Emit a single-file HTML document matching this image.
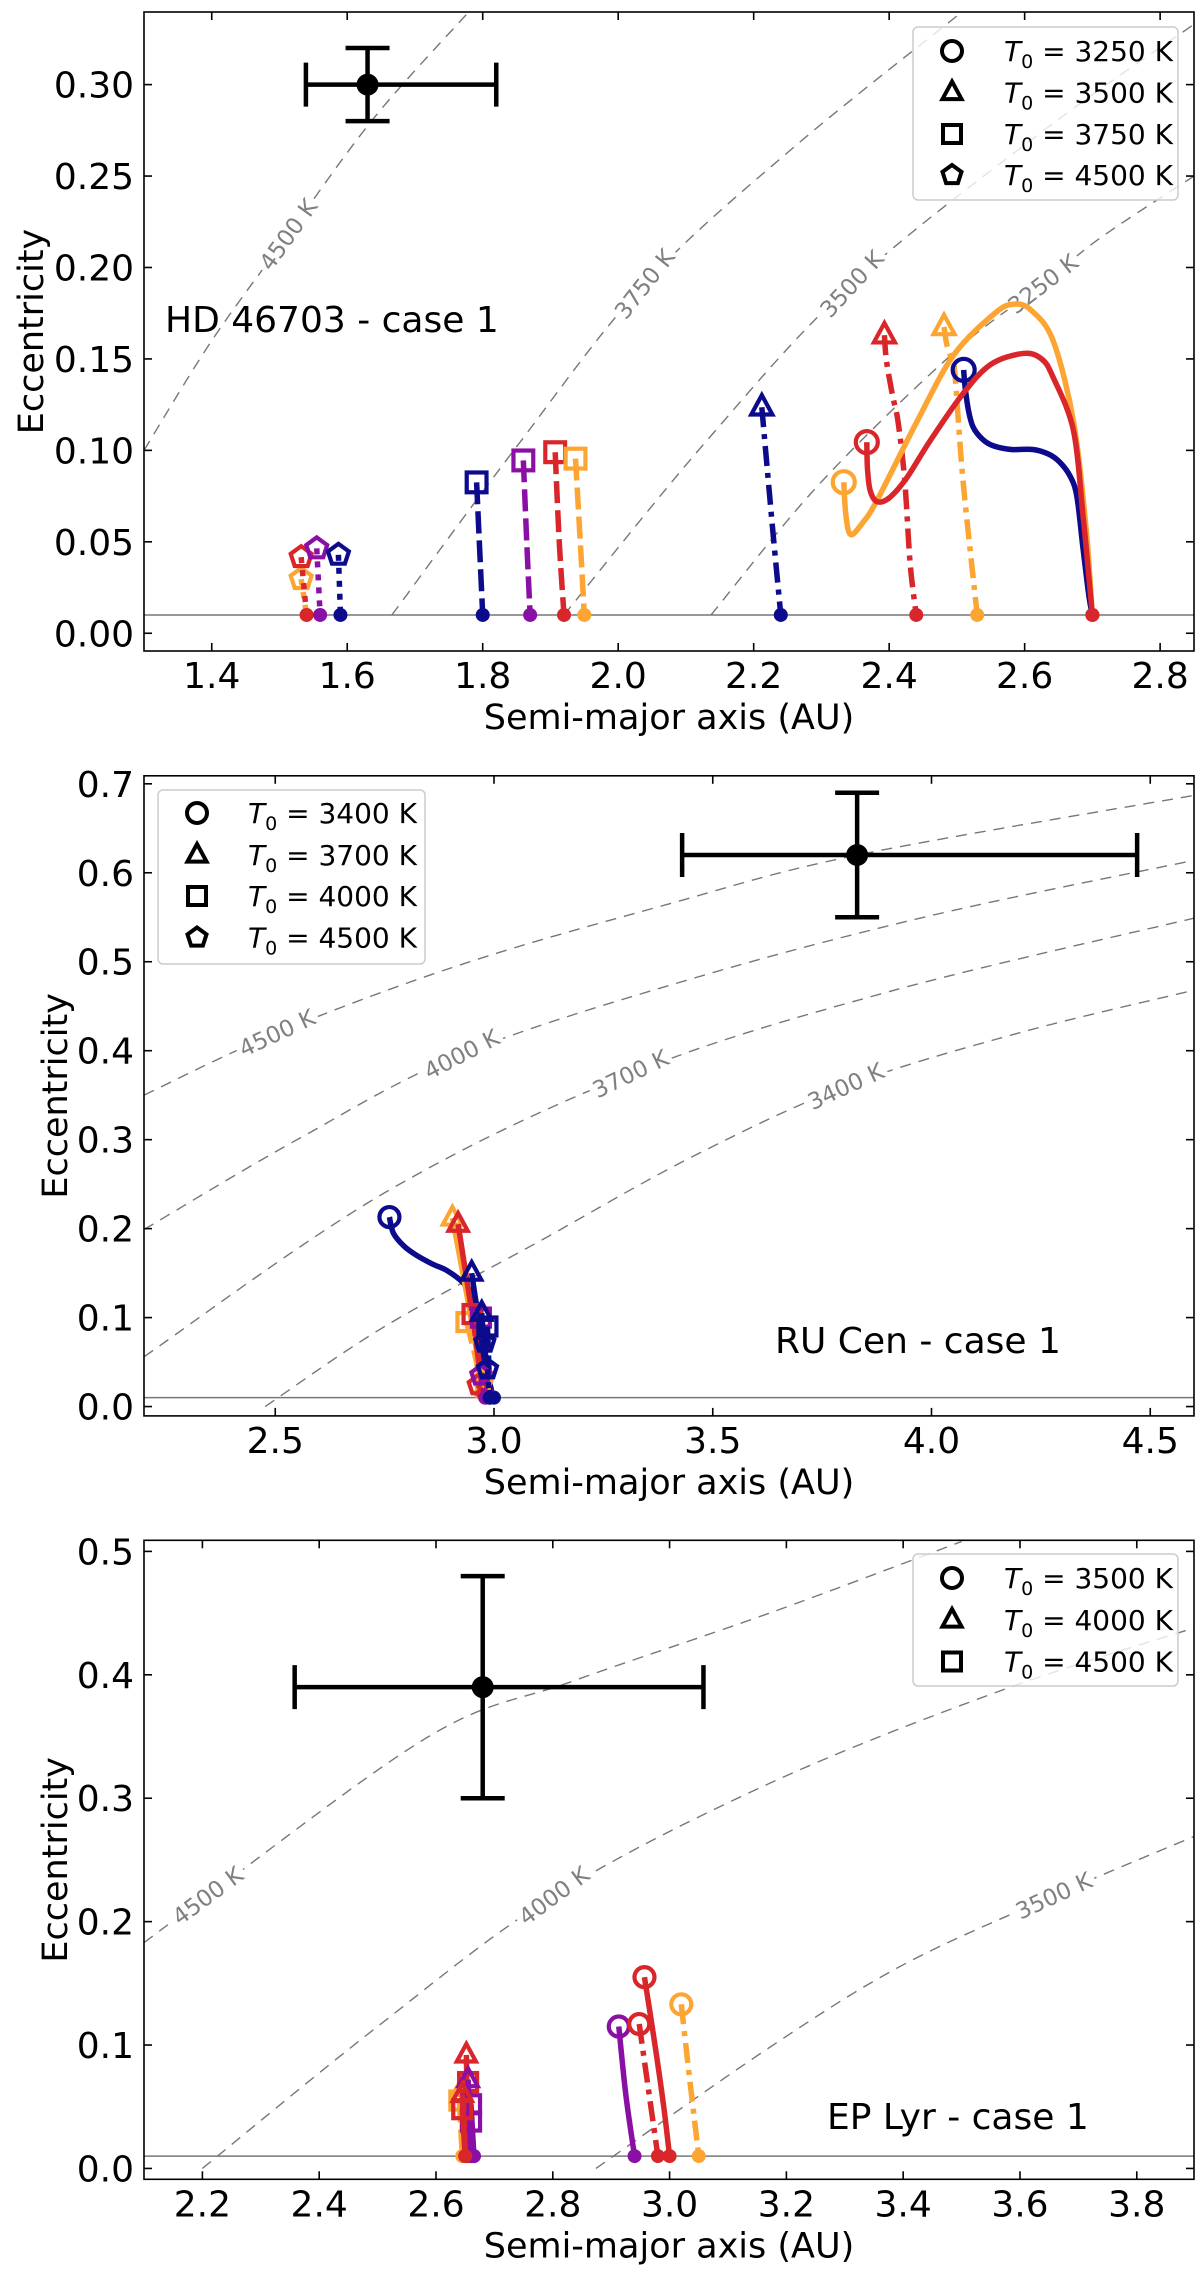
<!DOCTYPE html>
<html><head><meta charset="utf-8"><style>
html,body{margin:0;padding:0;background:#fff;}
svg{display:block;font-family:"DejaVu Sans","Liberation Sans",sans-serif;}
</style></head><body>
<svg id="fig" width="1200" height="2272" viewBox="0 0 1200 2272" xmlns="http://www.w3.org/2000/svg"></svg>
<script>
// ---------- DATA ----------
const p1XTicks = [1.4,1.6,1.8,2.0,2.2,2.4,2.6,2.8];
const p1YTicks = [0,0.05,0.10,0.15,0.20,0.25,0.30];
const p2XTicks = [2.5,3.0,3.5,4.0,4.5];
const p2YTicks = [0,0.1,0.2,0.3,0.4,0.5,0.6,0.7];
const p3XTicks = [2.2,2.4,2.6,2.8,3.0,3.2,3.4,3.6,3.8];
const p3YTicks = [0,0.1,0.2,0.3,0.4,0.5];

const p1Legend = ['3250','3500','3750','4500'];
const p2Legend = ['3400','3700','4000','4500'];
const p3Legend = ['3500','4000','4500'];

const p1Obs = {a:1.63, e:0.30, aLo:1.539, aHi:1.82, eLo:0.28, eHi:0.32};
const p2Obs = {a:3.83, e:0.62, aLo:3.43, aHi:4.47, eLo:0.55, eHi:0.69};
const p3Obs = {a:2.68, e:0.39, aLo:2.358, aHi:3.058, eLo:0.30, eHi:0.48};

const p1Contours = [
 {label:'4500 K', la:1.513, a:[1.30,1.40,1.513,1.64,1.78], e:[0.100,0.160,0.218,0.282,0.340]},
 {label:'3750 K', la:2.039, a:[1.666,1.85,2.039,2.26,2.505], e:[0.010,0.102,0.191,0.266,0.339]},
 {label:'3500 K', la:2.345, a:[1.92,2.13,2.345,2.632,2.85], e:[0.010,0.105,0.191,0.276,0.333]},
 {label:'3250 K', la:2.627, a:[2.137,2.298,2.494,2.627,2.713,2.85], e:[0.010,0.082,0.153,0.191,0.2165,0.25]}
];
const p2Contours = [
 {label:'4500 K', la:2.504, a:[2.2,2.504,2.926,3.40,3.831,4.6], e:[0.350,0.420,0.497,0.565,0.620,0.687]},
 {label:'4000 K', la:2.926, a:[2.2,2.55,2.926,3.453,4.0,4.6], e:[0.199,0.300,0.396,0.481,0.552,0.614]},
 {label:'3700 K', la:3.312, a:[2.2,2.749,3.312,3.9,4.6], e:[0.056,0.240,0.374,0.466,0.549]},
 {label:'3400 K', la:3.804, a:[2.477,2.75,3.101,3.45,3.804,4.2,4.6], e:[0.0,0.090,0.185,0.280,0.360,0.420,0.468]}
];
const p3Contours = [
 {label:'4500 K', la:2.209, a:[2.1,2.209,2.591,2.835,3.171,3.50], e:[0.183,0.221,0.351,0.395,0.450,0.508]},
 {label:'4000 K', la:2.802, a:[2.2,2.50,2.802,3.171,3.566,3.898], e:[0.0,0.115,0.221,0.312,0.387,0.438]},
 {label:'3500 K', la:3.658, a:[2.874,3.171,3.40,3.658,3.898], e:[0.0,0.098,0.165,0.221,0.269]}
];

const NAVY='#0b0b8c', PURPLE='#8a0fa5', RED='#d8262a', ORANGE='#fca532';

const p1Series = [
 {c:ORANGE,m:'pent',d:'dot',a:[1.532,1.54],e:[0.0296,0.01]},
 {c:RED,m:'pent',d:'dot',a:[1.532,1.54],e:[0.0416,0.01]},
 {c:PURPLE,m:'pent',d:'dot',a:[1.555,1.56],e:[0.0464,0.01]},
 {c:NAVY,m:'pent',d:'dot',a:[1.587,1.59],e:[0.0429,0.01]},
 {c:NAVY,m:'sq',d:'dash',a:[1.791,1.795,1.80],e:[0.0825,0.05,0.01]},
 {c:PURPLE,m:'sq',d:'dash',a:[1.86,1.865,1.87],e:[0.0945,0.05,0.01]},
 {c:RED,m:'sq',d:'dash',a:[1.907,1.913,1.92],e:[0.099,0.05,0.01]},
 {c:ORANGE,m:'sq',d:'dash',a:[1.937,1.944,1.95],e:[0.0955,0.05,0.01]},
 {c:NAVY,m:'tri',d:'dashdot',a:[2.212,2.22,2.229,2.24],e:[0.1236,0.09,0.053,0.01]},
 {c:RED,m:'tri',d:'dashdot',a:[2.393,2.396,2.405,2.413,2.423,2.431,2.44],e:[0.163,0.149,0.13,0.116,0.0835,0.038,0.01]},
 {c:ORANGE,m:'tri',d:'dashdot',a:[2.481,2.485,2.492,2.497,2.509,2.53],e:[0.1675,0.158,0.15,0.142,0.0835,0.01]},
 {c:NAVY,m:'circ',d:'solid',a:[2.51,2.512,2.517,2.524,2.538,2.553,2.58,2.612,2.635,2.652,2.667,2.677,2.686,2.695,2.70],e:[0.144,0.135,0.122,0.1127,0.106,0.1026,0.1005,0.1005,0.098,0.0935,0.086,0.075,0.047,0.02,0.01]},
 {c:ORANGE,m:'circ',d:'solid',a:[2.333,2.336,2.343,2.36,2.382,2.44,2.495,2.556,2.585,2.61,2.642,2.672,2.69,2.70],e:[0.0826,0.065,0.054,0.06,0.0726,0.115,0.152,0.175,0.18,0.1765,0.160,0.116,0.06,0.01]},
 {c:RED,m:'circ',d:'solid',a:[2.367,2.368,2.372,2.382,2.40,2.426,2.46,2.509,2.55,2.598,2.625,2.642,2.672,2.686,2.695,2.70],e:[0.1045,0.09,0.078,0.072,0.074,0.085,0.105,0.131,0.147,0.153,0.150,0.14,0.111,0.065,0.03,0.01]}
];
const p2Series = [
 {c:NAVY,m:'circ',d:'solid',a:[2.761,2.770,2.795,2.823,2.86,2.892,2.93,2.953,2.968,2.979,2.991,3.0],e:[0.213,0.195,0.18,0.170,0.16,0.153,0.139,0.124,0.101,0.064,0.025,0.01]},
 {c:ORANGE,m:'tri',d:'solid',a:[2.905,2.94,2.975],e:[0.212,0.12,0.02]},
 {c:RED,m:'tri',d:'solid',a:[2.918,2.945,2.978],e:[0.205,0.12,0.02]},
 {c:NAVY,m:'tri',d:'solid',a:[2.949,2.97,2.99],e:[0.150,0.08,0.01]},
 {c:ORANGE,m:'sq',d:'dash',a:[2.937,2.96,2.97],e:[0.095,0.05,0.015]},
 {c:RED,m:'sq',d:'dash',a:[2.951,2.965,2.975],e:[0.104,0.05,0.015]},
 {c:PURPLE,m:'sq',d:'dash',a:[2.97,2.98,2.985],e:[0.1,0.05,0.015]},
 {c:NAVY,m:'sq',d:'dash',a:[2.985,2.988,2.99],e:[0.09,0.05,0.01]},
 {c:NAVY,m:'tri',d:'solid',a:[2.972,2.985],e:[0.105,0.012]},
 {c:NAVY,m:'pent',d:'dot',a:[2.979,2.99],e:[0.072,0.01]},
 {c:ORANGE,m:'pent',d:'dot',a:[2.975,2.98],e:[0.03,0.01]},
 {c:RED,m:'pent',d:'dot',a:[2.964,2.98],e:[0.024,0.01]},
 {c:PURPLE,m:'pent',d:'dot',a:[2.97,2.98],e:[0.035,0.01]},
 {c:NAVY,m:'pent',d:'dot',a:[2.985,2.99],e:[0.042,0.01]}
];
const p3Series = [
 {c:ORANGE,m:'sq',d:'dash',a:[2.640,2.645],e:[0.055,0.01]},
 {c:ORANGE,m:'tri',d:'dash',a:[2.645,2.645],e:[0.065,0.01]},
 {c:RED,m:'tri',d:'solid',a:[2.652,2.655],e:[0.092,0.01]},
 {c:RED,m:'sq',d:'solid',a:[2.655,2.652],e:[0.070,0.01]},
 {c:PURPLE,m:'tri',d:'solid',a:[2.655,2.66],e:[0.072,0.01]},
 {c:PURPLE,m:'sq',d:'solid',a:[2.66,2.665],e:[0.052,0.01]},
 {c:PURPLE,m:'sq',d:'solid',a:[2.66,2.665],e:[0.038,0.01]},
 {c:RED,m:'tri',d:'solid',a:[2.645,2.65],e:[0.060,0.01]},
 {c:RED,m:'sq',d:'solid',a:[2.645,2.65],e:[0.048,0.01]},
 {c:PURPLE,m:'circ',d:'solid',a:[2.913,2.925,2.94],e:[0.115,0.06,0.01]},
 {c:RED,m:'circ',d:'solid',a:[2.957,2.975,2.99,3.0],e:[0.155,0.1,0.05,0.01]},
 {c:RED,m:'circ',d:'dashdot',a:[2.948,2.965,2.98],e:[0.117,0.06,0.01]},
 {c:ORANGE,m:'circ',d:'dashdot',a:[3.02,3.035,3.05],e:[0.133,0.07,0.01]}
];

// ---------- LAYOUT ----------
const NS='http://www.w3.org/2000/svg';
const svg=document.getElementById('fig');
function mk(tag,attrs,parent){const el=document.createElementNS(NS,tag);for(const k in attrs)el.setAttribute(k,attrs[k]);(parent||svg).appendChild(el);return el;}

const panels=[
 {name:'hd46703',x0:144,x1:1194,y0:12,y1:651,xmin:1.30,xmax:2.85,ymin:-0.0097,ymax:0.3397,xt:p1XTicks,yt:p1YTicks,xf:1,yf:2,
  obs:p1Obs,cont:p1Contours,ser:p1Series,leg:p1Legend,legBox:[913,27,265,173],legX:952,legTX:1004,legY:[51,92.5,134,175],
  title:'HD 46703 - case 1',tx:165,ty:332,ylx:31,ms:11},
 {name:'ru-cen',x0:144,x1:1194,y0:775.8,y1:1415.9,xmin:2.2,xmax:4.6,ymin:-0.0105,ymax:0.709,xt:p2XTicks,yt:p2YTicks,xf:1,yf:1,
  obs:p2Obs,cont:p2Contours,ser:p2Series,leg:p2Legend,legBox:[158,790,267,174],legX:197,legTX:248,legY:[813,855,896,937.5],
  title:'RU Cen - case 1',tx:775,ty:1353,ylx:55,ms:10},
 {name:'ep-lyr',x0:144,x1:1194,y0:1540.3,y1:2179.3,xmin:2.10,xmax:3.898,ymin:-0.0088,ymax:0.509,xt:p3XTicks,yt:p3YTicks,xf:1,yf:1,
  obs:p3Obs,cont:p3Contours,ser:p3Series,leg:p3Legend,legBox:[913,1554,265,132],legX:952,legTX:1004,legY:[1578,1620,1661.5],
  title:'EP Lyr - case 1',tx:827,ty:2129,ylx:55,ms:10}
];

function smooth(pts){
  if(pts.length<3){return 'M'+pts.map(p=>p[0].toFixed(2)+','+p[1].toFixed(2)).join(' L');}
  let d='M'+pts[0][0].toFixed(2)+','+pts[0][1].toFixed(2);
  for(let i=0;i<pts.length-1;i++){
    const p0=pts[Math.max(i-1,0)],p1=pts[i],p2=pts[i+1],p3=pts[Math.min(i+2,pts.length-1)];
    const c1=[p1[0]+(p2[0]-p0[0])/6,p1[1]+(p2[1]-p0[1])/6];
    const c2=[p2[0]-(p3[0]-p1[0])/6,p2[1]-(p3[1]-p1[1])/6];
    d+=' C'+c1[0].toFixed(2)+','+c1[1].toFixed(2)+' '+c2[0].toFixed(2)+','+c2[1].toFixed(2)+' '+p2[0].toFixed(2)+','+p2[1].toFixed(2);
  }
  return d;
}
function markerShape(type,cx,cy,r,color,fill,parent,sw){
  let el;
  if(type==='circ'){el=mk('circle',{cx:cx,cy:cy,r:r},parent);}
  else if(type==='sq'){const s=r*0.9;el=mk('rect',{x:cx-s,y:cy-s,width:2*s,height:2*s},parent);}
  else if(type==='tri'){const s=r*1.1;el=mk('polygon',{points:`${cx},${cy-s} ${cx+s*0.87},${cy+s*0.6} ${cx-s*0.87},${cy+s*0.6}`},parent);}
  else {let p=[];for(let k=0;k<5;k++){const ang=-Math.PI/2+k*2*Math.PI/5;p.push((cx+r*Math.cos(ang)).toFixed(2)+','+(cy+r*Math.sin(ang)).toFixed(2));}el=mk('polygon',{points:p.join(' ')},parent);}
  el.setAttribute('fill',fill);el.setAttribute('stroke',color);el.setAttribute('stroke-width',sw||4);el.setAttribute('stroke-linejoin','miter');
  return el;
}
const dashes={solid:'none',dash:'22,7',dashdot:'20,7,5,7',dot:'6,7'};

panels.forEach((P,pi)=>{
  const X=v=>P.x0+(v-P.xmin)/(P.xmax-P.xmin)*(P.x1-P.x0);
  const Y=v=>P.y1-(v-P.ymin)/(P.ymax-P.ymin)*(P.y1-P.y0);
  const g=mk('g',{});
  
  
  const clipId='clip'+pi;
  const cp=mk('clipPath',{id:clipId},g);mk('rect',{x:P.x0,y:P.y0,width:P.x1-P.x0,height:P.y1-P.y0},cp);
  const plot=mk('g',{'clip-path':`url(#${clipId})`},g);

  P.cont.forEach(c=>{
    const pts=c.a.map((a,i)=>[X(a),Y(c.e[i])]);
    const path=mk('path',{d:smooth(pts),fill:'none',stroke:'#777','stroke-width':1.4,'stroke-dasharray':'11,8'},plot);
    
    
  });
  const hl=mk('line',{x1:P.x0,x2:P.x1,y1:Y(0.01),y2:Y(0.01),stroke:'#777','stroke-width':1.5},plot);
  
  
  P.cont.forEach(c=>{
    let i=0;while(i<c.a.length-2&&c.a[i+1]<c.la)i++;
    const t=(c.la-c.a[i])/(c.a[i+1]-c.a[i]);const ev=c.e[i]+t*(c.e[i+1]-c.e[i]);
    const dx=X(c.a[i+1])-X(c.a[i]),dy=Y(c.e[i+1])-Y(c.e[i]);
    const ang=Math.atan2(dy,dx)*180/Math.PI;
    const lx=X(c.la),ly=Y(ev);
    const lg=mk('g',{transform:`translate(${lx},${ly}) rotate(${ang})`},plot);
    mk('rect',{x:-44,y:-14,width:88,height:28,fill:'#fff'},lg);
    const tx=mk('text',{x:0,y:8,'text-anchor':'middle','font-size':23,fill:'#808080'},lg);
    tx.textContent=c.label;
    
    
  });
  P.ser.forEach(s=>{
    const pts=s.a.map((a,i)=>[X(a),Y(s.e[i])]);
    const path=mk('path',{d:smooth(pts),fill:'none',stroke:s.c,'stroke-width':5.5,'stroke-dasharray':dashes[s.d],'stroke-linecap':'butt'},plot);
    
    
    const last=pts[pts.length-1];
    const dot=mk('circle',{cx:last[0],cy:last[1],r:7,fill:s.c},plot);
    
    
    const mkr=markerShape(s.m,pts[0][0],pts[0][1],P.ms,s.c,'none',plot,4.2);
    
    
  });
  const o=P.obs;
  const og=mk('g',{stroke:'#000','stroke-width':4.5,fill:'none'},g);
  
  
  mk('line',{x1:X(o.aLo),x2:X(o.aHi),y1:Y(o.e),y2:Y(o.e)},og);
  mk('line',{x1:X(o.a),x2:X(o.a),y1:Y(o.eLo),y2:Y(o.eHi)},og);
  [o.aLo,o.aHi].forEach(v=>mk('line',{x1:X(v),x2:X(v),y1:Y(o.e)-22,y2:Y(o.e)+22},og));
  [o.eLo,o.eHi].forEach(v=>mk('line',{x1:X(o.a)-22,x2:X(o.a)+22,y1:Y(v),y2:Y(v)},og));
  mk('circle',{cx:X(o.a),cy:Y(o.e),r:11,fill:'#000',stroke:'none'},og);

  const fr=mk('rect',{x:P.x0,y:P.y0,width:P.x1-P.x0,height:P.y1-P.y0,fill:'none',stroke:'#000','stroke-width':1.6},g);
  
  
  P.xt.forEach(v=>{
    const x=X(v);
    mk('line',{x1:x,x2:x,y1:P.y1,y2:P.y1-8,stroke:'#000','stroke-width':1.6},g);
    mk('line',{x1:x,x2:x,y1:P.y0,y2:P.y0+8,stroke:'#000','stroke-width':1.6},g);
    const t=mk('text',{x:x,y:P.y1+37,'text-anchor':'middle','font-size':36,fill:'#000'},g);
    t.textContent=v.toFixed(P.xf);
    
    
  });
  P.yt.forEach(v=>{
    const y=Y(v);
    mk('line',{x1:P.x0,x2:P.x0+8,y1:y,y2:y,stroke:'#000','stroke-width':1.6},g);
    mk('line',{x1:P.x1,x2:P.x1-8,y1:y,y2:y,stroke:'#000','stroke-width':1.6},g);
    const t=mk('text',{x:P.x0-10,y:y+13,'text-anchor':'end','font-size':36,fill:'#000'},g);
    t.textContent=v.toFixed(P.yf);
    
    
  });
  const xl=mk('text',{x:(P.x0+P.x1)/2,y:P.y1+78,'text-anchor':'middle','font-size':35,fill:'#000'},g);
  xl.textContent='Semi-major axis (AU)';
  
  
  const ym=(P.y0+P.y1)/2;
  const yl=mk('text',{x:P.ylx,y:ym,'text-anchor':'middle','font-size':35,fill:'#000',transform:`rotate(-90 ${P.ylx} ${ym}) translate(0 12)`},g);
  yl.textContent='Eccentricity';
  
  
  const tt=mk('text',{x:P.tx,y:P.ty,'font-size':36,fill:'#000'},g);
  tt.textContent=P.title;
  
  

  const lg=mk('g',{},g);
  
  
  const b=P.legBox;
  mk('rect',{x:b[0],y:b[1],width:b[2],height:b[3],rx:5,fill:'#fff','fill-opacity':0.8,stroke:'#ccc','stroke-width':1.5},lg);
  const mtypes=['circ','tri','sq','pent'];
  P.leg.forEach((T,i)=>{
    const y=P.legY[i];
    const m=markerShape(mtypes[i],P.legX,y,10,'#000','none',lg,4);
    
    
    const t=mk('text',{x:P.legTX,y:y+10,'font-size':28,fill:'#000'},lg);
    
    
    const t1=mk('tspan',{'font-style':'italic'},t);t1.textContent='T';
    const t2=mk('tspan',{'font-size':19,dy:7},t);t2.textContent='0';
    const t3=mk('tspan',{dy:-7},t);t3.textContent=' = '+T+' K';
  });
});
</script>
</body></html>
